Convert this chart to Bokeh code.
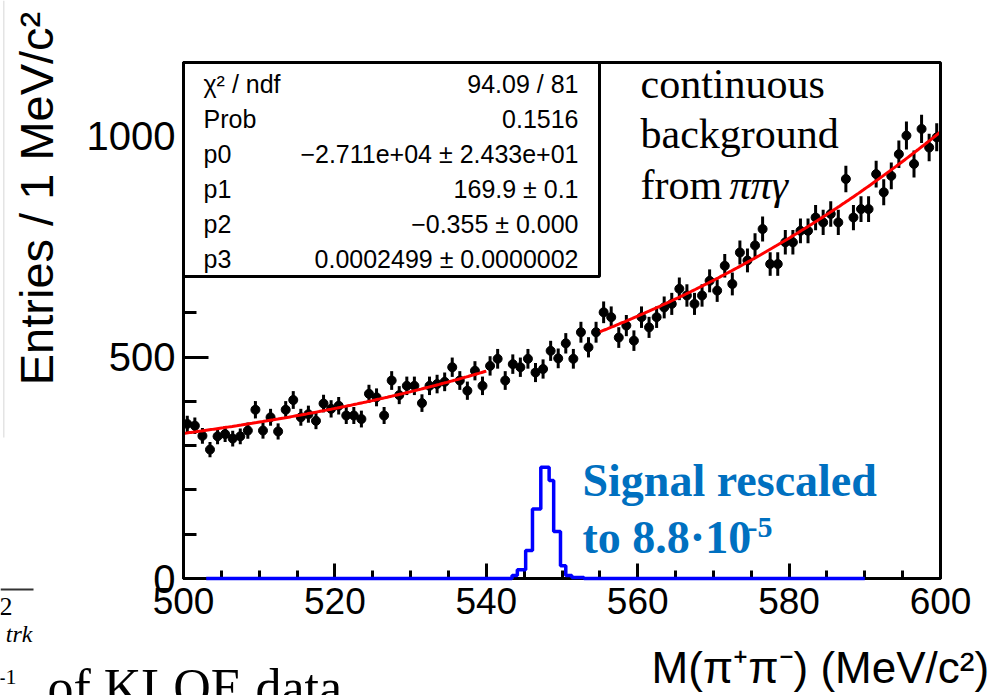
import numpy as np
from math import pi
from bokeh.plotting import figure
from bokeh.models import Range1d, FixedTicker, Label, BoxAnnotation, LinearAxis
from bokeh.embed import file_html
from bokeh.resources import INLINE

# ---------------- data ----------------
bin_centers = np.arange(500.5, 600.0, 1.0)
entries = [349, 345, 322, 291, 321, 326, 316, 321, 334, 381,
           334, 364, 332, 381, 403, 364, 371, 356, 395, 383,
           390, 368, 368, 360, 417, 409, 368, 447, 414, 435,
           435, 396, 435, 439, 444, 477, 447, 424, 469, 435,
           480, 496, 447, 484, 477, 496, 465, 473, 514, 497,
           531, 496, 556, 522, 556, 601, 590, 544, 571, 537,
           590, 567, 590, 612, 620, 654, 639, 620, 639, 672,
           650, 706, 665, 736, 718, 752, 789, 710, 710, 759,
           759, 785, 785, 815, 804, 823, 804, 902, 815, 834,
           834, 913, 872, 909, 958, 1000, 936, 1015, 973, 996]

fit_params = [-2.711e4, 169.9, -0.355, 0.0002499]
fit_ranges = [(500.0, 540.0), (555.0, 600.0)]

signal_edges = [503.0, 543.4, 544.1, 545.2, 546.1, 547.2, 548.3, 548.9,
                549.8, 550.5, 551.3, 552.9, 590.0]
signal_counts = [0, 7, 20, 63, 157, 251, 221, 106, 29, 7, 2, 0]

stat_names = ["\u03c7\u00b2 / ndf", "Prob", "p0", "p1", "p2", "p3"]
stat_values = ["94.09 / 81", "0.1516", "\u22122.711e+04 \u00b1 2.433e+01",
               "169.9 \u00b1 0.1", "\u22120.355 \u00b1 0.000",
               "0.0002499 \u00b1 0.0000002"]

x_ticks = [500, 520, 540, 560, 580, 600]
x_minor = list(range(500, 601, 5))
y_ticks = [0, 500, 1000]
y_minor = list(range(0, 1101, 100))

# ---------------- layout ----------------
W, H = 996, 695
FL, FR, FT, FB = 183, 940, 62, 578          # pixel box of the histogram frame
X0, X1, Y0, Y1 = 500.0, 600.0, 0.0, 1165.0  # its data limits

def px2x(px):
    return X0 + (px - FL) * (X1 - X0) / (FR - FL)

def py2y(py):
    return Y0 + (FB - py) * (Y1 - Y0) / (FB - FT)

p = figure(width=W, height=H,
           x_range=Range1d(px2x(0), px2x(W)), y_range=Range1d(py2y(H), py2y(0)),
           output_backend="svg", toolbar_location=None, title=None,
           x_axis_type=None, y_axis_type=None,
           min_border=0, min_border_left=0, min_border_right=0,
           min_border_top=0, min_border_bottom=0)
p.grid.visible = False
p.background_fill_color = "white"
p.border_fill_color = "white"
p.outline_line_color = None

xaxis = LinearAxis(fixed_location=Y0, bounds=(X0, X1),
                   ticker=FixedTicker(ticks=x_ticks, minor_ticks=x_minor))
yaxis = LinearAxis(fixed_location=X0, bounds=(Y0, Y1),
                   ticker=FixedTicker(ticks=y_ticks, minor_ticks=y_minor))
for ax in (xaxis, yaxis):
    ax.axis_line_width = 3
    ax.axis_line_color = "black"
    ax.major_tick_line_width = 3
    ax.minor_tick_line_width = 3
    ax.major_tick_out = 0
    ax.minor_tick_out = 0
    ax.major_label_text_font = "Liberation Sans"
    ax.major_label_text_color = "black"
xaxis.major_tick_in = 15
xaxis.minor_tick_in = 8
xaxis.major_label_text_font_size = "37px"
xaxis.major_label_standoff = 9
yaxis.major_tick_in = 25
yaxis.minor_tick_in = 13
yaxis.major_label_text_font_size = "40px"
yaxis.major_label_standoff = 8
p.add_layout(xaxis, "below")
p.add_layout(yaxis, "left")

# frame (top and right edges)
p.add_layout(BoxAnnotation(left=X0, right=X1, bottom=Y0, top=Y1, fill_alpha=0,
                           line_color="black", line_width=3, line_alpha=1.0))

# ---------------- glyphs ----------------
y = np.array(entries, dtype=float)
err = np.sqrt(y)
p.segment(x0=bin_centers, y0=y - err, x1=bin_centers, y1=y + err,
          line_color="black", line_width=3)
p.scatter(bin_centers, y, size=9, color="black")

for a, b in fit_ranges:
    xs = np.linspace(a, b, 200)
    ys = fit_params[0] + fit_params[1] * xs + fit_params[2] * xs**2 + fit_params[3] * xs**3
    p.line(xs, ys, line_color="#ff0000", line_width=3)

sig = p.step(x=signal_edges, y=signal_counts + [0], mode="after",
             line_color="#0000ff", line_width=3.5)
sig.level = "overlay"

# ---------------- text helper ----------------
def text(t, px, py_base, size, font="Liberation Sans", align="left", style="normal",
         color="black", k=None):
    # py_base is the wanted pixel baseline; correct the renderer's baseline offset
    if k is None:
        k = 0.36 if font == "Liberation Sans" else 0.33
    p.add_layout(Label(x=px2x(px), y=py2y(py_base - k * size), text=t, text_font=font,
                       text_font_size=f"{size}px", text_align=align,
                       text_baseline="alphabetic", text_font_style=style,
                       text_color=color))

# ---------------- stats box ----------------
p.add_layout(BoxAnnotation(left=px2x(183), right=px2x(599), top=py2y(62), bottom=py2y(276),
                           fill_color="white", fill_alpha=1.0, line_color="black",
                           line_width=3, line_alpha=1.0))
row_base = [92, 127, 162, 197, 232, 267]
for name, val, yb in zip(stat_names, stat_values, row_base):
    text(name, 203, yb, 25)
    text(val, 578, yb, 25, align="right")

# ---------------- annotations ----------------
for t, yb in (("continuous", 97), ("background", 147), ("from", 198)):
    text(t, 640, yb, 42, font="Liberation Serif")
text("\u03c0\u03c0\u03b3", 729, 198, 42, font="Liberation Serif", style="italic")

blue = "#0070c0"
text("Signal rescaled", 582, 495, 46, font="Liberation Serif", style="bold", color=blue)
text("to 8.8\u00b710", 582, 552, 46, font="Liberation Serif", style="bold", color=blue)
text("-5", 747, 537, 30, font="Liberation Serif", style="bold", color=blue)

# axis titles
ysize = 47
p.add_layout(Label(x=px2x(55 - 0.40 * ysize), y=py2y(198), text="Entries / 1 MeV/c\u00b2",
                   angle=pi / 2, text_font="Liberation Sans", text_font_size=f"{ysize}px",
                   text_align="center", text_baseline="alphabetic", text_color="black"))
text("M(\u03c0\u207a\u03c0\u207b) (MeV/c\u00b2)", 651, 683, 44)

# slide fragments at the edges
p.add_layout(BoxAnnotation(left=px2x(2.5), right=px2x(4), top=py2y(0), bottom=py2y(437),
                           fill_color="#e4e4e4", fill_alpha=1.0, line_alpha=0))
p.add_layout(BoxAnnotation(left=px2x(0), right=px2x(33), top=py2y(588), bottom=py2y(590),
                           fill_color="#333333", fill_alpha=1.0, line_alpha=0))
text("2", 12, 615, 26, font="Liberation Serif", align="right")
text("trk", 32, 641, 24, font="Liberation Serif", align="right", style="italic")
text("of KLOE data", 47, 704, 52, font="Liberation Serif")
text("-1", 16, 684, 22, font="Liberation Serif", align="right")

open("out.html", "w").write(file_html(p, INLINE))
